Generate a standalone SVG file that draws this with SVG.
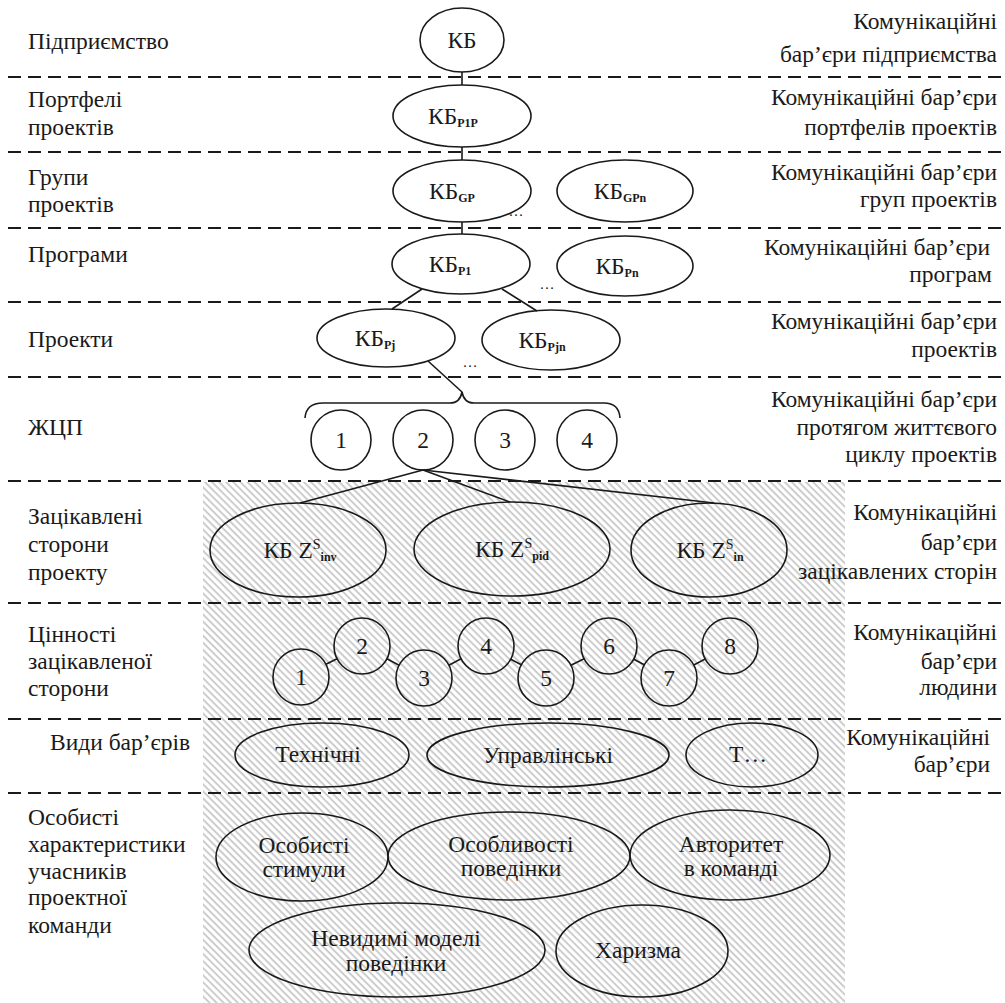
<svg xmlns="http://www.w3.org/2000/svg" width="1005" height="1003" viewBox="0 0 1005 1003">
<style>
text{font-family:"Liberation Serif","Times New Roman","DejaVu Serif",serif;font-size:23.5px;fill:#1a1a1a}
.m{text-anchor:middle}
.r{text-anchor:end}
.sub{font-size:12px;font-weight:bold}
.sup{font-size:14px}
.n{fill:none;stroke:#1a1a1a;stroke-width:1.6}
.c{fill:none;stroke:#1a1a1a;stroke-width:1.6}
.d{stroke:#1a1a1a;stroke-width:2;stroke-dasharray:13 7}
</style>
<defs>
<pattern id="hatch" width="5" height="5" patternUnits="userSpaceOnUse" patternTransform="rotate(45)">
<rect x="0" y="0" width="5" height="1.8" fill="#c8c8c8"/>
</pattern>
</defs>
<rect width="1005" height="1003" fill="#ffffff"/>
<rect x="203" y="482" width="642" height="521" fill="url(#hatch)"/>
<g id="dividers">
<line class="d" x1="8" y1="77" x2="1005" y2="77"/>
<line class="d" x1="8" y1="152" x2="1005" y2="152"/>
<line class="d" x1="8" y1="228" x2="1005" y2="228"/>
<line class="d" x1="8" y1="302" x2="1005" y2="302"/>
<line class="d" x1="8" y1="377" x2="1005" y2="377"/>
<line class="d" x1="8" y1="481" x2="1005" y2="481"/>
<line class="d" x1="8" y1="603" x2="1005" y2="603"/>
<line class="d" x1="8" y1="719" x2="1005" y2="719"/>
<line class="d" x1="8" y1="793" x2="1005" y2="793"/>
</g>
<g id="left-labels">
<text x="28" y="49">Підприємство</text>
<text x="28" y="107">Портфелі</text>
<text x="28" y="135">проектів</text>
<text x="28" y="185">Групи</text>
<text x="28" y="212">проектів</text>
<text x="28" y="262">Програми</text>
<text x="28" y="347">Проекти</text>
<text x="28" y="435">ЖЦП</text>
<text x="28" y="524">Зацікавлені</text>
<text x="28" y="552">сторони</text>
<text x="28" y="580">проекту</text>
<text x="28" y="642">Цінності</text>
<text x="28" y="669">зацікавленої</text>
<text x="28" y="696">сторони</text>
<text x="50" y="750">Види бар’єрів</text>
<text x="28" y="825">Особисті</text>
<text x="28" y="852">характеристики</text>
<text x="28" y="879">учасників</text>
<text x="28" y="905">проектної</text>
<text x="28" y="933">команди</text>
</g>
<g id="right-labels">
<text class="r" x="997" y="29">Комунікаційні</text>
<text class="r" x="997" y="62">бар’єри підприємства</text>
<text class="r" x="997" y="105">Комунікаційні бар’єри</text>
<text class="r" x="997" y="135">портфелів проектів</text>
<text class="r" x="997" y="180">Комунікаційні бар’єри</text>
<text class="r" x="997" y="207">груп проектів</text>
<text class="r" x="990" y="255">Комунікаційні бар’єри</text>
<text class="r" x="992" y="282">програм</text>
<text class="r" x="997" y="329">Комунікаційні бар’єри</text>
<text class="r" x="997" y="357">проектів</text>
<text class="r" x="997" y="407">Комунікаційні бар’єри</text>
<text class="r" x="997" y="435">протягом життєвого</text>
<text class="r" x="997" y="462">циклу проектів</text>
<text class="r" x="997" y="520">Комунікаційні</text>
<text class="r" x="997" y="550">бар’єри</text>
<text class="r" x="997" y="579">зацікавлених сторін</text>
<text class="r" x="997" y="640">Комунікаційні</text>
<text class="r" x="997" y="669">бар’єри</text>
<text class="r" x="997" y="695">людини</text>
<text class="r" x="990" y="745">Комунікаційні</text>
<text class="r" x="990" y="772">бар’єри</text>
</g>
<g id="connectors">
<line class="c" x1="462" y1="72" x2="462" y2="85"/>
<line class="c" x1="462" y1="147" x2="462" y2="160"/>
<line class="c" x1="462" y1="222" x2="462" y2="234"/>
<line class="c" x1="422" y1="289" x2="392" y2="309"/>
<line class="c" x1="502" y1="289" x2="537" y2="311"/>
<line class="c" x1="428" y1="361" x2="462" y2="392"/>
<path class="c" d="M305,418 Q306,403 323,403 L450,403 Q460,403 462,392 Q464,403 474,403 L604,403 Q619,403 620,418"/>
<line class="c" x1="423" y1="470" x2="300" y2="503"/>
<line class="c" x1="423" y1="470" x2="510" y2="502"/>
<line class="c" x1="423" y1="470" x2="714" y2="503"/>
<line class="c" x1="326" y1="664.3" x2="337" y2="658.7"/>
<line class="c" x1="386.9" y1="658.8" x2="399.1" y2="665.2"/>
<line class="c" x1="448.9" y1="665.2" x2="461.1" y2="658.8"/>
<line class="c" x1="510.7" y1="659.2" x2="521.3" y2="664.8"/>
<line class="c" x1="570.9" y1="665.3" x2="584.1" y2="658.7"/>
<line class="c" x1="633.7" y1="659.2" x2="644.3" y2="664.8"/>
<line class="c" x1="693.8" y1="665" x2="705.2" y2="659"/>
</g>
<g id="dots">
<text class="m" x="516" y="216" style="font-size:15px">…</text>
<text class="m" x="547" y="289" style="font-size:15px">…</text>
<text class="m" x="470" y="367" style="font-size:15px">…</text>
</g>
<g id="kb">
<ellipse class="n" cx="462" cy="40" rx="42" ry="32"/>
<text class="m" x="462" y="48">КБ</text>
</g>
<g id="kb-p1p">
<ellipse class="n" cx="462" cy="116" rx="69" ry="31"/>
<text class="m" x="453" y="124">КБ<tspan class="sub" dy="3">P1P</tspan></text>
</g>
<g id="kb-gp">
<ellipse class="n" cx="462" cy="191" rx="69" ry="31"/>
<text class="m" x="452" y="199">КБ<tspan class="sub" dy="3">GP</tspan></text>
</g>
<g id="kb-gpn">
<ellipse class="n" cx="625" cy="191" rx="68" ry="31"/>
<text class="m" x="620" y="199">КБ<tspan class="sub" dy="3">GPn</tspan></text>
</g>
<g id="kb-p1">
<ellipse class="n" cx="461" cy="264" rx="69" ry="30"/>
<text class="m" x="450" y="272">КБ<tspan class="sub" dy="3">P1</tspan></text>
</g>
<g id="kb-pn">
<ellipse class="n" cx="625" cy="266" rx="68" ry="30"/>
<text class="m" x="617" y="274">КБ<tspan class="sub" dy="3">Pn</tspan></text>
</g>
<g id="kb-pj">
<ellipse class="n" cx="386" cy="338" rx="69" ry="29"/>
<text class="m" x="375" y="346">КБ<tspan class="sub" dy="3">Pj</tspan></text>
</g>
<g id="kb-pjn">
<ellipse class="n" cx="551" cy="340" rx="69" ry="30"/>
<text class="m" x="542" y="348">КБ<tspan class="sub" dy="3">Pjn</tspan></text>
</g>
<g id="lc-1"><circle class="n" cx="341" cy="440" r="30"/><text class="m" x="341" y="448">1</text></g>
<g id="lc-2"><circle class="n" cx="423" cy="440" r="30"/><text class="m" x="423" y="448">2</text></g>
<g id="lc-3"><circle class="n" cx="505" cy="440" r="30"/><text class="m" x="505" y="448">3</text></g>
<g id="lc-4"><circle class="n" cx="587" cy="440" r="30"/><text class="m" x="587" y="448">4</text></g>
<g id="z-inv">
<ellipse class="n" cx="298" cy="550" rx="88" ry="47"/>
<text class="m" x="300" y="558">КБ Z<tspan class="sup" dy="-9">S</tspan><tspan class="sub" dy="12">inv</tspan></text>
</g>
<g id="z-pid">
<ellipse class="n" cx="512" cy="549" rx="98" ry="47"/>
<text class="m" x="512" y="557">КБ Z<tspan class="sup" dy="-9">S</tspan><tspan class="sub" dy="12">pid</tspan></text>
</g>
<g id="z-in">
<ellipse class="n" cx="709" cy="550" rx="78" ry="47"/>
<text class="m" x="710" y="558">КБ Z<tspan class="sup" dy="-9">S</tspan><tspan class="sub" dy="12">in</tspan></text>
</g>
<g id="v-1"><circle class="n" cx="301" cy="677" r="28"/><text class="m" x="301" y="685">1</text></g>
<g id="v-2"><circle class="n" cx="362" cy="646" r="28"/><text class="m" x="362" y="654">2</text></g>
<g id="v-3"><circle class="n" cx="424" cy="678" r="28"/><text class="m" x="424" y="686">3</text></g>
<g id="v-4"><circle class="n" cx="486" cy="646" r="28"/><text class="m" x="486" y="654">4</text></g>
<g id="v-5"><circle class="n" cx="546" cy="678" r="28"/><text class="m" x="546" y="686">5</text></g>
<g id="v-6"><circle class="n" cx="609" cy="646" r="28"/><text class="m" x="609" y="654">6</text></g>
<g id="v-7"><circle class="n" cx="669" cy="678" r="28"/><text class="m" x="669" y="686">7</text></g>
<g id="v-8"><circle class="n" cx="730" cy="646" r="28"/><text class="m" x="730" y="654">8</text></g>
<g id="t-tech"><ellipse class="n" cx="322" cy="755" rx="87" ry="32"/><text class="m" x="318" y="762">Технічні</text></g>
<g id="t-man"><ellipse class="n" cx="548" cy="755" rx="121" ry="32"/><text class="m" x="548" y="763">Управлінські</text></g>
<g id="t-etc"><ellipse class="n" cx="752" cy="755" rx="66" ry="32"/><text class="m" x="748" y="762">Т…</text></g>
<g id="p-stim"><ellipse class="n" cx="302" cy="857" rx="86" ry="44"/><text class="m" x="304" y="853">Особисті</text><text class="m" x="304" y="877">стимули</text></g>
<g id="p-beh"><ellipse class="n" cx="509" cy="856" rx="121" ry="44"/><text class="m" x="511" y="852">Особливості</text><text class="m" x="511" y="876">поведінки</text></g>
<g id="p-auth"><ellipse class="n" cx="730" cy="855" rx="100" ry="45"/><text class="m" x="731" y="852">Авторитет</text><text class="m" x="731" y="876">в команді</text></g>
<g id="p-inv"><ellipse class="n" cx="397" cy="950" rx="148" ry="47"/><text class="m" x="396" y="946">Невидимі моделі</text><text class="m" x="396" y="971">поведінки</text></g>
<g id="p-char"><ellipse class="n" cx="642" cy="951" rx="86" ry="46"/><text class="m" x="638" y="958">Харизма</text></g>
</svg>
